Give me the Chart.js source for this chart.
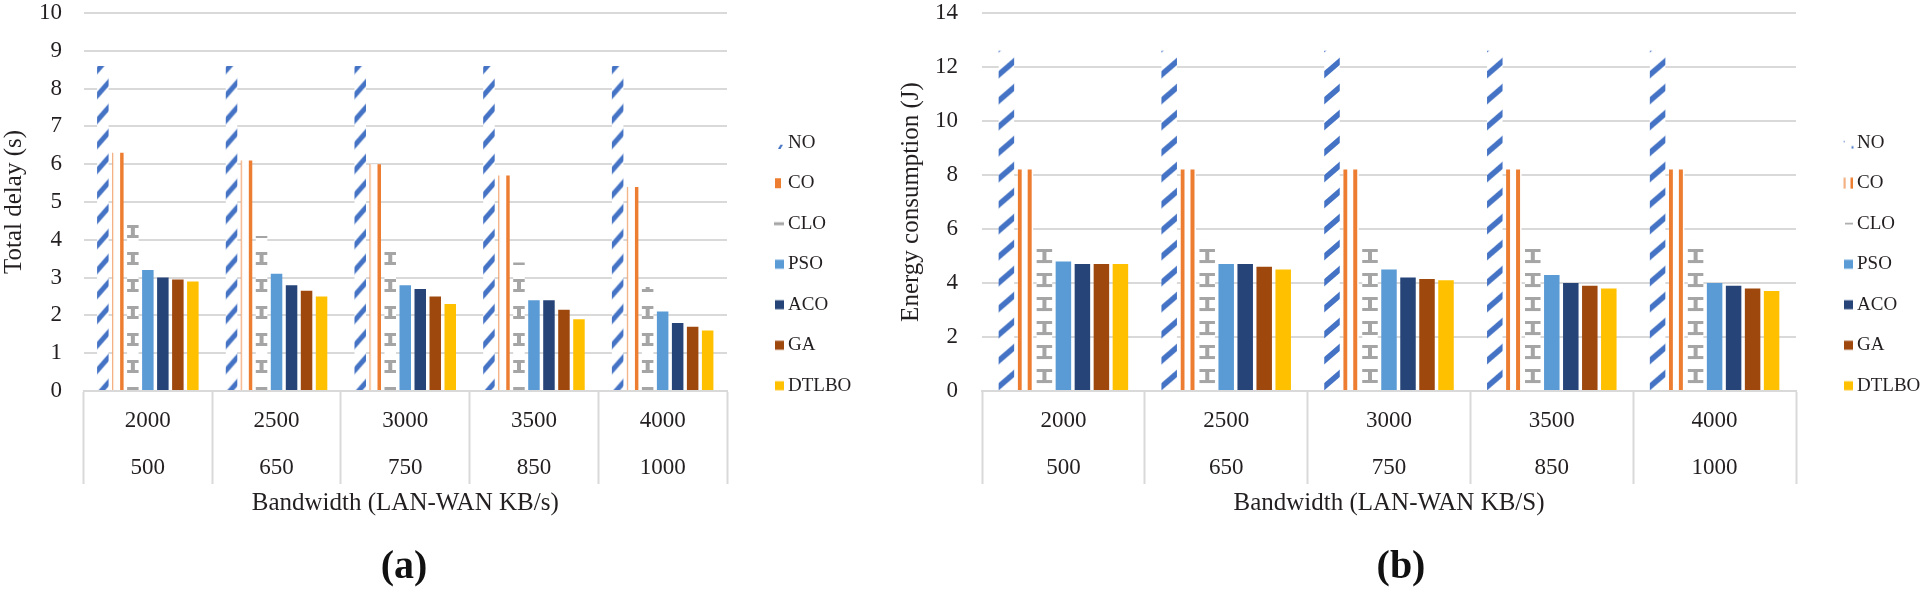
<!DOCTYPE html>
<html>
<head>
<meta charset="utf-8">
<script src="https://cdn.jsdelivr.net/npm/chart.js@4.4.1/dist/chart.umd.min.js"></script>
<style>
html,body{margin:0;padding:0;background:#fff;overflow:hidden;width:1925px;height:589px;position:relative;}
#wrapA{position:absolute;left:0;top:0;}
#wrapB{position:absolute;left:897px;top:0;}
canvas{display:block;}
.cap{position:absolute;top:545px;font-family:"Liberation Serif","Times New Roman",serif;font-weight:bold;font-size:40px;line-height:40px;color:#111;transform:translateX(-50%);white-space:nowrap;}
</style>
</head>
<body>
<div id="wrapA"><canvas id="chartA"></canvas></div>
<div id="wrapB"><canvas id="chartB"></canvas></div>
<div class="cap" style="left:404px">(a)</div>
<div class="cap" style="left:1401px">(b)</div>
<script>
// ---------------- data ----------------
const bandwidthLan = ['2000', '2500', '3000', '3500', '4000'];
const bandwidthWan = ['500', '650', '750', '850', '1000'];
const seriesNames = ['NO', 'CO', 'CLO', 'PSO', 'ACO', 'GA', 'DTLBO'];

const delayNO    = [8.6, 8.6, 8.6, 8.6, 8.6];
const delayCO    = [6.3, 6.1, 6.0, 5.7, 5.4];
const delayCLO   = [4.55, 4.1, 3.8, 3.4, 2.75];
const delayPSO   = [3.2, 3.1, 2.8, 2.4, 2.1];
const delayACO   = [3.0, 2.8, 2.7, 2.4, 1.8];
const delayGA    = [2.95, 2.65, 2.5, 2.15, 1.7];
const delayDTLBO = [2.9, 2.5, 2.3, 1.9, 1.6];

const energyNO    = [12.6, 12.6, 12.6, 12.6, 12.6];
const energyCO    = [8.2, 8.2, 8.2, 8.2, 8.2];
const energyCLO   = [5.35, 5.6, 5.6, 5.35, 5.6];
const energyPSO   = [4.8, 4.7, 4.5, 4.3, 4.0];
const energyACO   = [4.7, 4.7, 4.2, 4.0, 3.9];
const energyGA    = [4.7, 4.6, 4.15, 3.9, 3.8];
const energyDTLBO = [4.7, 4.5, 4.1, 3.8, 3.7];

const delayTicks  = [0, 10, 1];   // min, max, step
const energyTicks = [0, 14, 2];

const seriesColors = ['#4472C4', '#ED7D31', '#A5A5A5', '#5B9BD5', '#264478', '#9E480E', '#FFC000'];

// ---------------- style ----------------
const FONT = '"Liberation Serif", "Times New Roman", serif';
const TEXT = '#231f20';
const GRID = '#d9d9d9';
Chart.defaults.font.family = FONT;
Chart.defaults.color = TEXT;

const LEG_FONT = 19, LEG_PAD = 21.5, LEG_BOX = 1;
const mctx = document.createElement('canvas').getContext('2d');
mctx.font = 'normal normal ' + LEG_FONT + 'px ' + FONT;
const maxTW = Math.max(...seriesNames.map(n => mctx.measureText(n).width));
const legendW = LEG_PAD + LEG_BOX + LEG_FONT / 2 + maxTW + 10;

function tile(w, h, fn) {
  const c = document.createElement('canvas');
  c.width = w; c.height = h;
  const g = c.getContext('2d');
  g.fillStyle = '#fff'; g.fillRect(0, 0, w, h);
  fn(g, w, h);
  return c;
}
function noTile(W, H, lw) {
  return tile(W, H, g => {
    g.strokeStyle = '#4472C4'; g.lineWidth = lw;
    for (let k = -1; k <= 1; k++) {
      g.beginPath(); g.moveTo(k * W, H); g.lineTo(k * W + W, 0); g.stroke();
    }
  });
}
function coTileLeft() {
  return tile(12, 4, g => {
    g.fillStyle = '#F4B183'; g.fillRect(0, 0, 1.2, 4);
    g.fillStyle = '#ED7D31'; g.fillRect(8, 0, 4, 4);
  });
}
function coTileRight() {
  return tile(10, 4, g => {
    g.fillStyle = '#ED7D31'; g.fillRect(0, 0, 4, 4);
  });
}
function cloTile(P, IH, lt, sw) {
  return tile(40, P, g => {
    g.fillStyle = '#A5A5A5';
    g.fillRect(0, 0, 40, lt);
    g.fillRect(0, IH - lt, 40, lt);
    g.fillRect(20 - sw / 2, lt, sw, IH - 2 * lt);
  });
}
function marker(fn) {
  const c = document.createElement('canvas');
  c.width = 14; c.height = 12;
  fn(c.getContext('2d'));
  return c;
}
function squareMarker(col) { return marker(g => { g.fillStyle = col; g.fillRect(4, 1.5, 9, 9); }); }

const markersA = [
  marker(g => { g.fillStyle = '#4472C4'; g.beginPath(); g.moveTo(7, 12); g.lineTo(9.5, 12); g.lineTo(12, 8); g.lineTo(9.5, 8); g.closePath(); g.fill(); }),
  marker(g => { g.fillStyle = '#ED7D31'; g.fillRect(4, 1, 6, 10); }),
  marker(g => { g.fillStyle = '#A5A5A5'; g.fillRect(3, 4.5, 10, 3); }),
  squareMarker(seriesColors[3]), squareMarker(seriesColors[4]), squareMarker(seriesColors[5]), squareMarker(seriesColors[6])
];
const markersB = [
  marker(g => { g.fillStyle = '#8FAADC'; g.fillRect(3.5, 4, 1.5, 1.5); g.fillStyle = '#4472C4'; g.fillRect(11.5, 9.5, 2, 2); }),
  marker(g => { g.fillStyle = '#F4B183'; g.fillRect(3.5, 0.5, 2.2, 11); g.fillStyle = '#ED7D31'; g.fillRect(10.5, 0.5, 2.5, 11); }),
  marker(g => { g.fillStyle = '#A5A5A5'; g.fillRect(5, 5, 8, 1.6); }),
  squareMarker(seriesColors[3]), squareMarker(seriesColors[4]), squareMarker(seriesColors[5]), squareMarker(seriesColors[6])
];

function makeChart(id, p) {
  const canvas = document.getElementById(id);
  const W = p.areaRight + p.spacer + legendW;
  const CW = Math.ceil(W);
  canvas.width = CW; canvas.height = 589;
  canvas.style.width = CW + 'px'; canvas.style.height = '589px';
  const ctx = canvas.getContext('2d');

  const tiles = [noTile(p.noW, p.noH, p.noLW), p.coTile(), cloTile(p.cloP, p.cloIH, 3, p.cloSW)];
  const pats = tiles.map(t => p.values[0].map(() => ctx.createPattern(t, 'repeat')));
  const xf = [
    (x, w, b) => [x - p.noW / 2, b - p.noH / 2 - p.noOff],
    (x, w, b) => [x - w / 2, 0],
    (x, w, b) => [x - 20, b + p.cloOff]
  ];

  const datasets = seriesNames.map((name, i) => ({
    label: name,
    data: p.values[i],
    backgroundColor: i < 3
      ? (c) => (c.dataIndex !== undefined && pats[i][c.dataIndex]) ? pats[i][c.dataIndex] : seriesColors[i]
      : seriesColors[i],
    borderWidth: 0
  }));

  const alignPlugin = {
    id: 'alignPatterns',
    beforeDatasetsDraw(chart) {
      const base = chart.scales.y.getPixelForValue(0);
      for (let i = 0; i < 3; i++) {
        const meta = chart.getDatasetMeta(i);
        meta.data.forEach((bar, j) => {
          const [tx, ty] = xf[i](bar.x, bar.width, base);
          pats[i][j].setTransform(new DOMMatrix([1, 0, 0, 1, tx, ty]));
        });
      }
    }
  };

  return new Chart(ctx, {
    type: 'bar',
    data: {
      labels: bandwidthLan.map((v, i) => [v, bandwidthWan[i]]),
      datasets
    },
    plugins: [alignPlugin],
    options: {
      responsive: false,
      animation: false,
      devicePixelRatio: 1,
      layout: { padding: { left: 0, top: 13, bottom: 73.5, right: CW - W } },
      datasets: { bar: { categoryPercentage: p.catPct, barPercentage: p.barPct } },
      plugins: {
        tooltip: { enabled: false },
        legend: {
          position: 'right',
          align: 'center',
          labels: {
            usePointStyle: true,
            boxWidth: LEG_BOX,
            boxHeight: 10,
            padding: LEG_PAD,
            color: TEXT,
            font: { family: FONT, size: LEG_FONT },
            generateLabels: () => seriesNames.map((n, i) => ({
              text: n,
              fillStyle: seriesColors[i],
              strokeStyle: 'rgba(0,0,0,0)',
              lineWidth: 0,
              pointStyle: p.markers[i],
              hidden: false,
              datasetIndex: i,
              fontColor: TEXT
            }))
          }
        }
      },
      scales: {
        x: {
          grid: {
            display: true, drawOnChartArea: false, drawTicks: true,
            tickLength: 93, tickColor: GRID, tickWidth: 2, offset: true, color: GRID
          },
          border: { display: true, color: GRID, width: 2 },
          ticks: {
            font: { family: FONT, size: 23, lineHeight: '47px' },
            color: TEXT, padding: -86.5, maxRotation: 0, minRotation: 0, autoSkip: false
          },
          title: {
            display: true, text: p.xTitle, color: TEXT,
            font: { family: FONT, size: 25, lineHeight: 1 }, padding: { top: 0, bottom: 0 }
          },
          afterFit(s) { s.height = 124.5; }
        },
        y: {
          min: p.ticks[0], max: p.ticks[1],
          ticks: { stepSize: p.ticks[2], font: { family: FONT, size: 23, lineHeight: 1.1 }, color: TEXT, padding: 0 },
          grid: { color: GRID, lineWidth: 2, drawTicks: true, tickLength: p.tickPad, tickColor: 'rgba(0,0,0,0)' },
          border: { display: false },
          title: {
            display: true, text: p.yTitle, color: TEXT,
            font: { family: FONT, size: 25, lineHeight: 1 }, padding: { top: 2, bottom: 0 }
          },
          afterFit(s) { s.width = p.yWidth; }
        },
        spacer: {
          type: 'linear', position: 'right', display: true, min: 0, max: 1,
          grid: { display: false, drawOnChartArea: false, drawTicks: false },
          border: { display: false },
          ticks: { display: false },
          afterFit(s) { s.width = p.spacer; }
        }
      }
    }
  });
}

makeChart('chartA', {
  values: [delayNO, delayCO, delayCLO, delayPSO, delayACO, delayGA, delayDTLBO],
  ticks: delayTicks,
  yTitle: 'Total delay (s)',
  xTitle: 'Bandwidth (LAN-WAN KB/s)',
  areaRight: 727, spacer: 29, yWidth: 83.5, tickPad: 21.5,
  catPct: 0.816, barPct: 0.767,
  noW: 22, noH: 25, noOff: 2, noLW: 5,
  coTile: coTileLeft,
  cloP: 27, cloIH: 13, cloSW: 4, cloOff: -4,
  markers: markersA
});

makeChart('chartB', {
  values: [energyNO, energyCO, energyCLO, energyPSO, energyACO, energyGA, energyDTLBO],
  ticks: energyTicks,
  yTitle: 'Energy consumption (J)',
  xTitle: 'Bandwidth (LAN-WAN KB/S)',
  areaRight: 899, spacer: 29, yWidth: 85, tickPad: 24,
  catPct: 0.817, barPct: 0.816,
  noW: 30, noH: 26, noOff: 11, noLW: 5.5,
  coTile: coTileRight,
  cloP: 24, cloIH: 14, cloSW: 4, cloOff: 2,
  markers: markersB
});
</script>
</body>
</html>
